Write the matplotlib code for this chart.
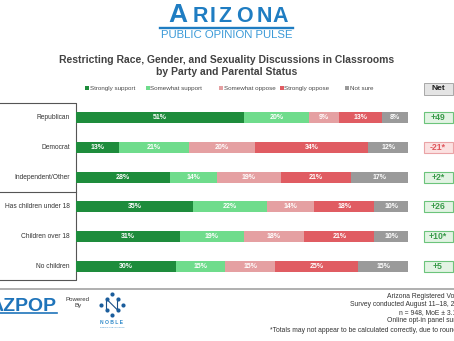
import matplotlib
matplotlib.use("Agg")
import matplotlib.pyplot as plt
from matplotlib.patches import Rectangle
import numpy as np

plt.rcParams['font.family'] = ['Liberation Sans', 'DejaVu Sans']

# data
groups = ["Republican", "Democrat", "Independent/Other",
          "Has children under 18", "Children over 18", "No children"]
series = ["Strongly support", "Somewhat support", "Somewhat oppose",
          "Strongly oppose", "Not sure"]
strongly_support = [51, 13, 28, 35, 31, 30]
somewhat_support = [20, 21, 14, 22, 19, 15]
somewhat_oppose = [9, 20, 19, 14, 18, 15]
strongly_oppose = [13, 34, 21, 18, 21, 25]
not_sure = [8, 12, 17, 10, 10, 15]
net_labels = ["+49", "-21*", "+2*", "+26", "+10*", "+5"]
footer = ["Arizona Registered Voters",
          "Survey conducted August 11\u201318, 2022",
          "n = 948, MoE \u00b1 3.18%",
          "Online opt-in panel survey",
          "*Totals may not appear to be calculated correctly, due to rounding"]

colors = ["#1e8c3c", "#6fdc8c", "#e5a0a2", "#e05c62", "#9a9a9a"]

W, H = 454, 341
fig = plt.figure(figsize=(W / 100, H / 100), dpi=100)
fig.patch.set_facecolor("white")

# page layer in pixel coords
pg = fig.add_axes([0, 0, 1, 1])
pg.set_xlim(0, W)
pg.set_ylim(H, 0)
pg.axis("off")

# header logo, letters spaced out like the wordmark
blue = "#1f7dc2"
logo = [("A", 177.5, 19), ("R", 200.5, 15.5), ("I", 212.5, 15.5), ("Z", 225, 15.5),
        ("O", 244, 15.5), ("N", 264, 15.5), ("A", 280.5, 15.5)]
for ch, cx, fs in logo:
    pg.text(cx, 22.5, ch, fontsize=fs, fontweight="bold", color=blue,
            ha="center", va="baseline")
pg.plot([160, 293], [27.5, 27.5], color=blue, lw=1.7)
pg.text(226.5, 35.5, "PUBLIC OPINION PULSE", fontsize=8.2, color="#3b9ad8",
        ha="center", va="center")

# title
pg.text(227, 60, "Restricting Race, Gender, and Sexuality Discussions in Classrooms",
        fontsize=7.5, fontweight="bold", color="#424242", ha="center", va="center")
pg.text(227, 72, "by Party and Parental Status",
        fontsize=7.5, fontweight="bold", color="#424242", ha="center", va="center")

# legend
leg_x = [85, 146, 219, 280, 345]
for lx, name, c in zip(leg_x, series, colors):
    pg.add_patch(Rectangle((lx, 86.3), 3.5, 3.5, color=c, lw=0))
    pg.text(lx + 4.5, 88.2, name, fontsize=4.5, color="#4a4a4a", va="center")

# left label box
lc = "#555555"
pg.plot([0, 75.5, 75.5, 0], [103, 103, 280, 280], color=lc, lw=0.8)
pg.plot([0, 75.5], [191.5, 191.5], color=lc, lw=0.8)

# bars
ax = fig.add_axes([76 / W, 1 - 281 / H, 332 / W, 178 / H])
vals = np.array([strongly_support, somewhat_support, somewhat_oppose,
                 strongly_oppose, not_sure], dtype=float)
tot = vals.sum(axis=0)
y = np.arange(len(groups))
left = np.zeros(len(groups))
for k in range(len(series)):
    w = vals[k] / tot * 100
    ax.barh(y, w, left=left, height=0.36, color=colors[k], lw=0)
    for i in range(len(groups)):
        ax.text(left[i] + w[i] / 2, y[i], f"{int(vals[k][i])}%", color="white",
                fontsize=5, fontweight="bold", ha="center", va="center")
    left += w
ax.set_xlim(0, 100)
ax.set_ylim(len(groups) - 0.5, -0.5)
ax.axis("off")

row_y = [103 + (i + 0.5) * 178 / 6 for i in range(6)]
for i, g in enumerate(groups):
    pg.text(70, row_y[i], g, fontsize=4.8, color="#333333", ha="right", va="center")

# net column
pg.add_patch(Rectangle((423.5, 83), 29, 11.5, facecolor="#e4e4e4",
                       edgecolor="#a8a8a8", lw=0.7))
pg.text(438, 88.8, "Net", fontsize=6, fontweight="bold", color="#222222",
        ha="center", va="center")
for i, lab in enumerate(net_labels):
    neg = lab.startswith("-")
    fc = "#fbe1e1" if neg else "#e2f3e3"
    ec = "#eaa3a6" if neg else "#6cc47b"
    tc = "#e0565c" if neg else "#3a9a4a"
    pg.add_patch(Rectangle((423.5, row_y[i] - 5.5), 29, 11, facecolor=fc,
                           edgecolor=ec, lw=0.8))
    pg.text(438, row_y[i], lab, fontsize=6.2, fontweight="bold", color=tc,
            ha="center", va="center")

# bottom rule
pg.plot([0, W], [289, 289], color="#a9a9a9", lw=1.3)

# footer logos
pg.text(57, 311, "AZPOP", fontsize=14, fontweight="bold", color="#1f74ba",
        ha="right", va="baseline")
pg.plot([0, 57], [312.5, 312.5], color="#1f74ba", lw=1.2)
pg.text(78, 299.5, "Powered", fontsize=4.4, color="#333333", ha="center", va="center")
pg.text(78, 306, "By", fontsize=4.4, color="#333333", ha="center", va="center")
dots_x = [112, 106.5, 117.5, 101, 123, 106.5, 117.5, 112]
dots_y = [294, 299, 299, 304.5, 304.5, 310, 310, 315]
pg.plot([106.5, 106.5, 117.5, 117.5], [310, 299, 310, 299], color="#1b4f86", lw=0.8)
pg.scatter(dots_x, dots_y, s=9, color="#1b5d9c", zorder=3, lw=0)
pg.text(112, 323, "N O B L E", fontsize=3.6, fontweight="bold", color="#2c88c9",
        ha="center", va="center")
pg.text(112, 328, "PREDICTIVE INSIGHTS", fontsize=1.6, color="#2c88c9",
        ha="center", va="center")

fy = [297, 304.5, 312.5, 321, 330]
for t, yy in zip(footer, fy):
    pg.text(466, yy, t, fontsize=4.9, color="#333333", ha="right", va="center")

fig.savefig("out.png", dpi=100)
